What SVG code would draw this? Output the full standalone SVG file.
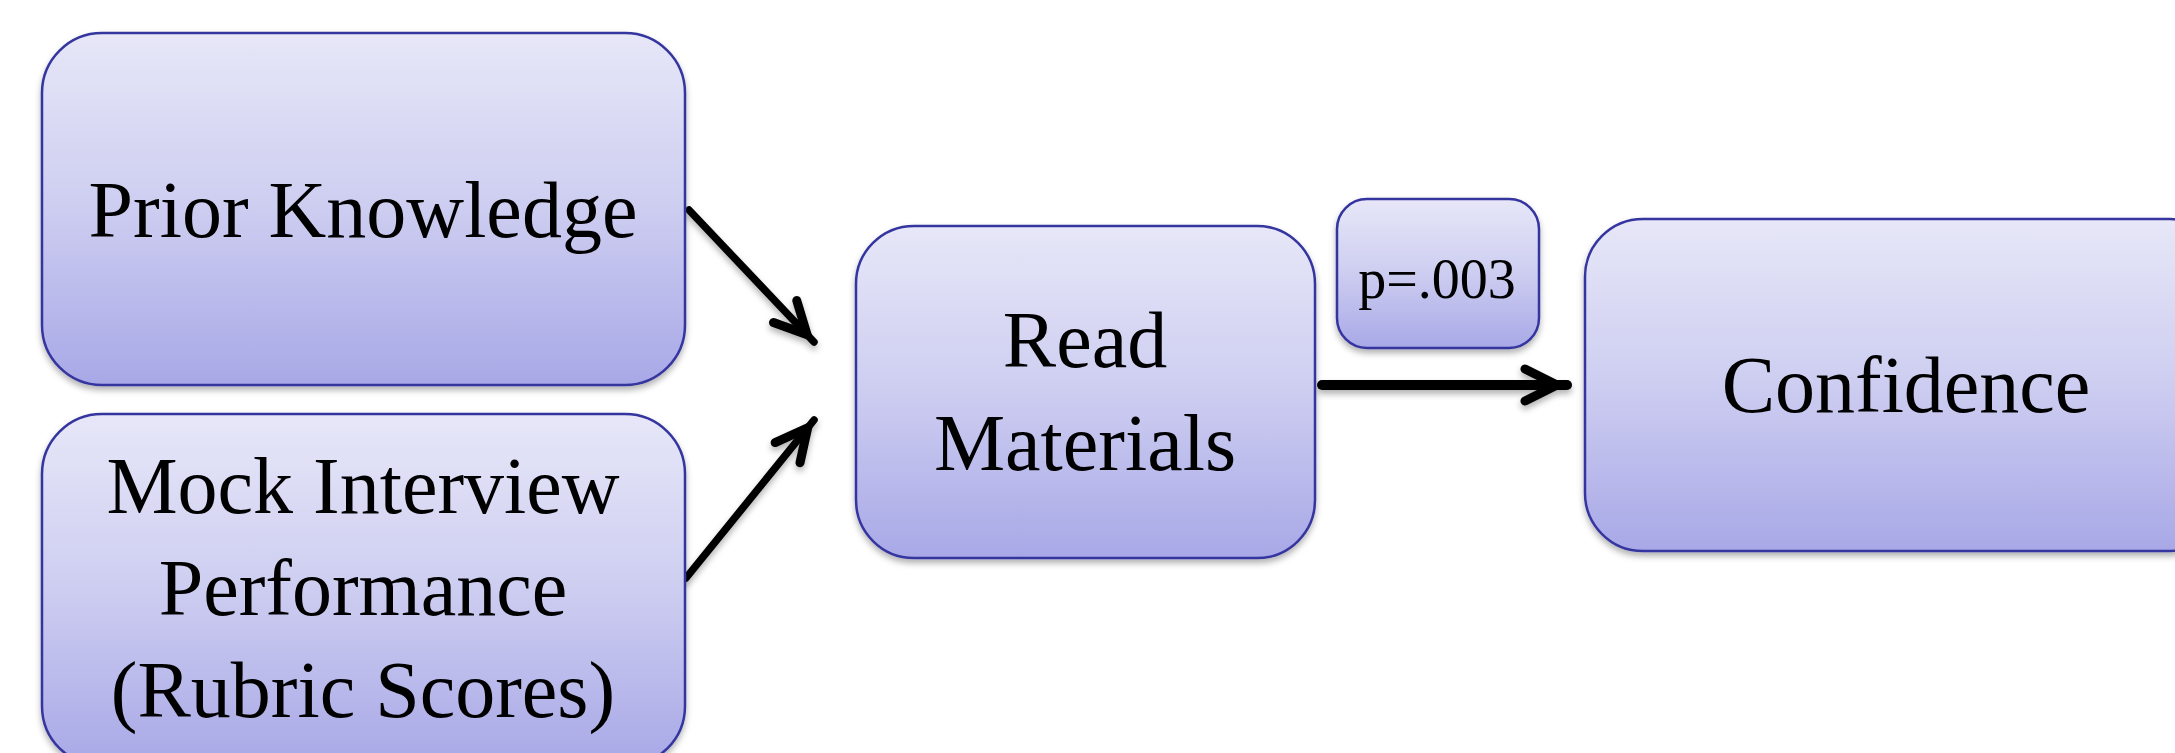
<svg xmlns="http://www.w3.org/2000/svg" width="2175" height="753" viewBox="0 0 2175 753">
  <defs>
    <linearGradient id="boxFill" x1="0" y1="0" x2="0" y2="1">
      <stop offset="0" stop-color="#E7E7F8"/>
      <stop offset="0.5" stop-color="#CDCDF1"/>
      <stop offset="1" stop-color="#A8A8E7"/>
    </linearGradient>
    <filter id="shadow" x="-10%" y="-10%" width="120%" height="130%">
      <feDropShadow dx="0" dy="4" stdDeviation="3" flood-color="#000" flood-opacity="0.3"/>
    </filter>
    <marker id="chev" markerUnits="userSpaceOnUse" orient="auto" overflow="visible" markerWidth="60" markerHeight="60" refX="0" refY="0">
      <path d="M -42 -16 L -10 0 L -42 16" fill="none" stroke="#000" stroke-width="9" stroke-linecap="round" stroke-linejoin="miter" stroke-miterlimit="10"/>
    </marker>
  </defs>
  <style>
    .box { fill: url(#boxFill); stroke: #3535A0; stroke-width: 2.5; filter: url(#shadow); }
    .lbl { font-family: "Liberation Serif", "DejaVu Serif", serif; font-size: 80px; fill: #000; text-anchor: middle; }
    .small { font-size: 56px; }
    .conn { fill: none; stroke: #000; stroke-linecap: round; marker-end: url(#chev); }
  </style>

  <g id="connectors" filter="url(#shadow)">
    <path class="conn" d="M 689 210 L 814 342" stroke-width="7.5"/>
    <path class="conn" d="M 686 578 L 814 420" stroke-width="7.5"/>
    <path class="conn" d="M 1322 385 L 1567 385" stroke-width="10"/>
  </g>

  <g id="node-prior-knowledge">
    <rect class="box" x="42" y="33" width="643" height="352" rx="60" ry="60"/>
    <text class="lbl" x="363" y="237">Prior Knowledge</text>
  </g>

  <g id="node-mock-interview">
    <rect class="box" x="42" y="414" width="643" height="352" rx="60" ry="60"/>
    <text class="lbl" x="363" y="513">Mock Interview</text>
    <text class="lbl" x="363" y="615">Performance</text>
    <text class="lbl" x="363" y="717">(Rubric Scores)</text>
  </g>

  <g id="node-read-materials">
    <rect class="box" x="856" y="226" width="459" height="332" rx="58" ry="58"/>
    <text class="lbl" x="1085" y="367">Read</text>
    <text class="lbl" x="1085" y="470">Materials</text>
  </g>

  <g id="node-p-value">
    <rect class="box" x="1337" y="199" width="202" height="149" rx="30" ry="30"/>
    <text class="lbl small" x="1437" y="298">p=.003</text>
  </g>

  <g id="node-confidence">
    <rect class="box" x="1585" y="219" width="643" height="332" rx="58" ry="58"/>
    <text class="lbl" x="1906" y="412">Confidence</text>
  </g>
</svg>
